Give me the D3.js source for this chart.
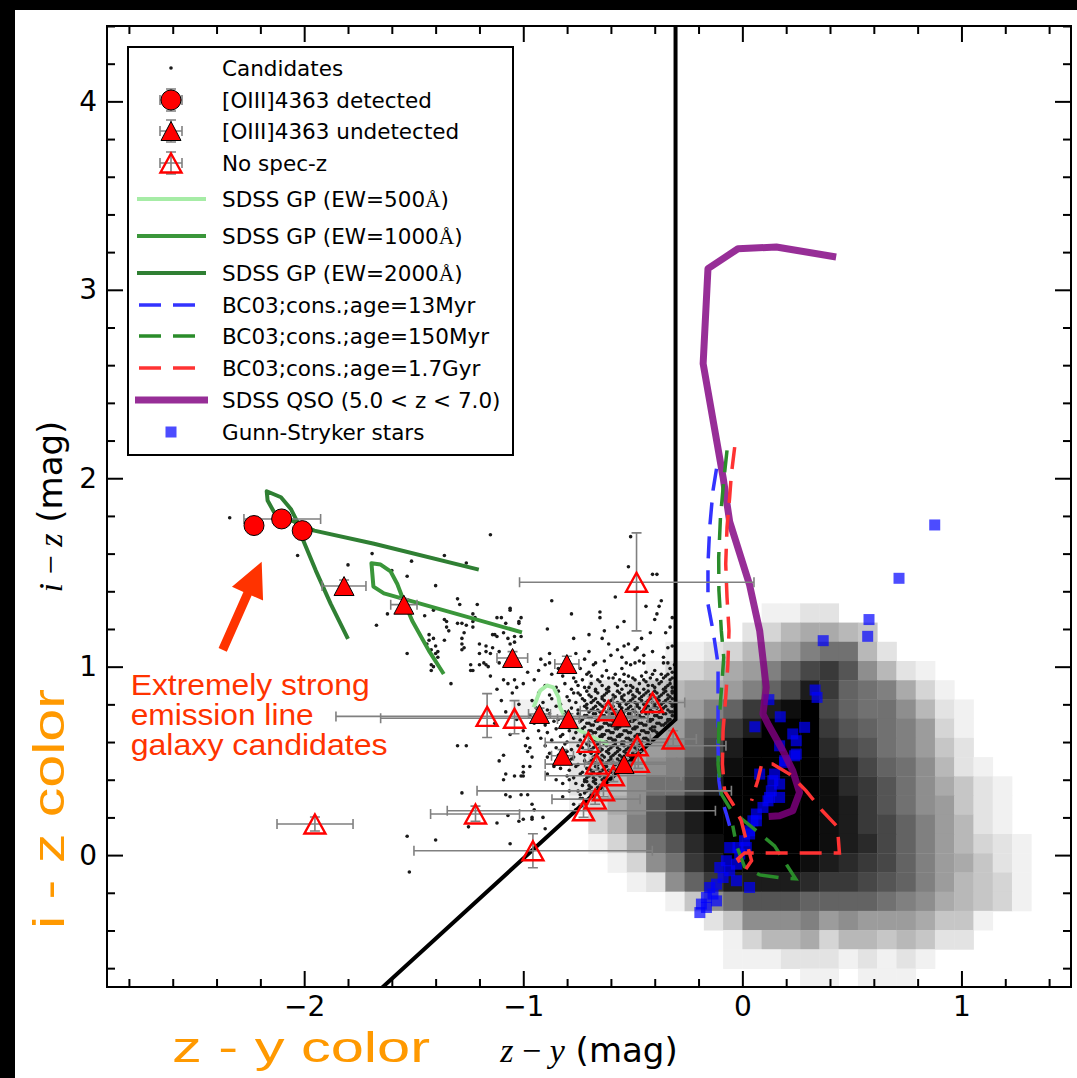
<!DOCTYPE html>
<html>
<head>
<meta charset="utf-8">
<script src="https://cdn.jsdelivr.net/npm/d3@7"></script>
<style>
body { margin: 0; background: #000; }
svg { display: block; }
</style>
</head>
<body>
<div id="chart"></div>
<script>
// ---- data ----
var xMajor = [-2, -1, 0, 1];
var yMajor = [0, 1, 2, 3, 4];

// 2D histogram of field sources, top row first, value 0..18 (radix-19 digits)
var binStartX = -13 * 0.0879, binDX = 0.0879, binDY = 0.102, binStartY = 0.01, topRow = 13;
var densityRows = [
  "0000000000000011220000000000",
  "0000000000000235665400000000",
  "00000000011235679AA520000000",
  "000000001334679BDEC852100000",
  "00000223456679BDGEBA96310000",
  "011112345679BEGHIDBAA8521000",
  "0000234567ACEGIIIECBA9731000",
  "0000234678ADGIIIIFDCA9742000",
  "0000245689CFHIIIIGFDBA852100",
  "00002458AADGIIIIIHFECA864210",
  "00001368CEGIIIIIIHGECA874210",
  "00000359CEGIIIIIIHGEDB975210",
  "00000136ACFHIIIIIHGFDB975321",
  "000000138AEGIIIIHGFEDB976421",
  "0000000128BEGGGGFEEDCB975431",
  "000000000148ACCCBBBBA9865431",
  "0000000000024888978777644100",
  "0000000000001355635545422000",
  "0000000000001112221212100000",
  "0000000000000000110111000000"
];

// candidate points "x,y"
var candidates = (
  "-2.34,1.79 -2.03,1.59 -1.80,1.54 -1.69,1.60 -1.60,1.51 -1.51,1.56 -1.53,1.48 -1.40,1.43 -1.36,1.59 -1.26,1.55 " +
  "-1.15,1.70 -1.30,1.36 -1.29,1.33 -1.21,1.33 -1.23,1.28 -1.22,1.26 -1.35,1.24 -1.35,1.21 -1.34,1.19 -1.62,1.28 " +
  "-1.67,1.22 -1.45,1.27 -1.43,1.17 -1.41,1.15 -1.36,1.14 -1.40,1.11 -1.39,1.08 -1.53,1.07 -1.41,1.00 -1.42,0.98 " +
  "-1.28,1.23 -1.26,1.22 -1.27,1.18 -1.28,1.15 -1.28,1.12 -1.27,1.10 -1.28,1.09 -1.24,1.01 -1.24,0.98 -1.20,1.12 " +
  "-1.17,1.11 -1.17,1.08 -1.18,1.02 -1.17,1.01 -1.15,1.07 -1.12,1.26 -1.10,1.26 -1.08,1.23 -1.06,1.30 -1.02,1.23 " +
  "-1.01,1.26 -1.13,1.17 -1.14,1.10 -1.11,1.08 -1.06,1.12 -1.04,1.16 -1.33,0.91 -1.11,1.02 -1.09,0.93 -1.07,0.91 " +
  "-1.04,0.93 -1.03,0.89 -1.00,0.91 -1.30,0.58 -1.26,0.58 -1.28,0.33 -1.11,0.50 -1.09,0.53 -1.08,0.43 -1.09,0.40 " +
  "-1.04,0.42 -1.00,0.42 -0.97,0.47 -0.99,0.58 -0.98,0.62 -1.01,0.32 -0.98,0.32 -1.53,0.10 -1.40,0.08 -1.52,-0.09 " +
  "-1.12,0.17 -1.07,0.21 -1.02,0.18 -1.00,0.19 -0.96,0.19 -0.91,0.20 -0.90,0.14 -1.06,0.06 -1.25,0.15 -0.51,1.69 " +
  "-0.41,1.49 -0.39,1.49 -0.87,1.35 -0.58,1.37 -0.37,1.35 -1.06,1.31 -0.78,1.28 -0.65,1.29 -0.65,1.26 -0.44,1.32 " +
  "-0.38,1.32 -0.39,1.28 -0.40,1.25 -0.32,1.26 -0.54,1.24 -0.89,1.20 -0.63,1.19 -0.42,1.18 -0.77,1.15 -1.02,1.24 " +
  "-1.14,1.17 -1.01,1.16 -0.61,1.12 -0.57,1.09 -0.54,1.11 -0.48,1.10 -0.32,1.11 -0.88,1.07 -0.92,1.04 -0.90,1.01 " +
  "-0.88,1.02 -0.68,1.01 -0.67,1.02 -0.63,1.03 -0.53,1.02 -0.51,1.01 -0.49,1.02 -0.47,1.03 -0.45,1.02 -0.36,1.02 " +
  "-0.34,1.02 -0.31,1.01 -0.52,1.12 -0.49,1.09 -0.52,1.53 -1.41,1.30 -1.36,1.25 -1.30,1.23 -1.23,1.24 -1.23,1.21 " +
  "-1.43,1.14 -1.44,1.12 -1.42,1.09 -1.40,1.07 -1.39,1.05 -1.42,1.01 -1.20,1.07 -1.20,1.01 -1.16,1.00 -1.12,1.16 " +
  "-1.09,1.18 -1.07,1.15 -1.04,1.13 -1.23,0.98 -0.89,0.52 -0.86,0.47 -0.89,0.43 -0.85,0.40 -0.82,0.38 -0.79,0.40 " +
  "-0.79,0.34 -0.82,0.31 -0.77,0.27 -0.74,0.30 -0.76,0.24 -1.08,0.32 -1.06,0.31 -0.97,0.57 -0.98,0.55 -0.96,0.52 " +
  "-1.00,0.47 -1.00,0.44 -1.01,0.42 -0.96,0.27 -0.95,0.24 -0.96,0.20 " +
  "-1.15,0.95 -1.12,0.88 -1.10,0.82 -1.08,0.76 -1.13,0.70 -1.05,0.86 -1.02,0.80 -1.03,0.72 -1.00,0.66 -1.06,0.64 " +
  "-0.98,0.97 -0.95,0.93 -0.93,0.98 -0.87,0.96 -0.84,0.99 -0.80,1.05 -0.76,1.07 -0.72,1.04 -0.70,1.08 -0.60,1.06 " +
  "-0.55,1.05 -0.45,1.06 -0.41,1.08 -0.36,1.05 -0.34,1.10 -0.64,1.15 -0.46,1.15 -0.35,1.18 -0.33,1.21 -0.57,1.21 -0.70,1.17 " +
  "-0.74,0.99 -0.70,0.97 -0.62,0.98 -0.58,0.96 -0.55,0.99 -0.44,0.97 -0.40,0.98 -0.37,0.96 -0.33,0.99 -0.32,0.97 " +
  "-0.82,0.95 -0.77,0.94 -0.73,0.93 -0.69,0.95 -0.66,0.93 -0.61,0.94 -0.56,0.93 -0.52,0.95 -0.49,0.93 -0.46,0.95 " +
  "-0.42,0.94 -0.39,0.93 -0.35,0.95 -0.33,0.93 -0.32,0.94 " +
  "-0.90,0.90 -0.85,0.89 -0.81,0.91 -0.78,0.88 -0.75,0.90 -0.72,0.89 -0.69,0.91 -0.67,0.88 -0.64,0.90 -0.61,0.89 " +
  "-0.58,0.91 -0.55,0.88 -0.53,0.90 -0.50,0.89 -0.47,0.91 -0.45,0.88 -0.43,0.90 -0.40,0.89 -0.38,0.91 -0.36,0.88 -0.34,0.90 -0.32,0.89 " +
  "-0.93,0.86 -0.88,0.85 -0.84,0.87 -0.80,0.84 -0.77,0.86 -0.74,0.85 -0.71,0.87 -0.69,0.84 -0.66,0.86 -0.63,0.85 " +
  "-0.61,0.87 -0.58,0.84 -0.56,0.86 -0.54,0.85 -0.51,0.87 -0.49,0.84 -0.47,0.86 -0.45,0.85 -0.43,0.87 -0.41,0.84 " +
  "-0.39,0.86 -0.37,0.85 -0.35,0.87 -0.33,0.84 -0.32,0.86 " +
  "-0.96,0.82 -0.91,0.81 -0.87,0.83 -0.83,0.80 -0.79,0.82 -0.76,0.81 -0.73,0.83 -0.71,0.80 -0.68,0.82 -0.66,0.81 " +
  "-0.64,0.83 -0.62,0.80 -0.60,0.82 -0.57,0.81 -0.55,0.83 -0.53,0.80 -0.51,0.82 -0.49,0.81 -0.47,0.83 -0.45,0.80 " +
  "-0.43,0.82 -0.41,0.81 -0.39,0.83 -0.37,0.80 -0.35,0.82 -0.33,0.81 -0.32,0.83 " +
  "-0.94,0.78 -0.89,0.77 -0.85,0.79 -0.81,0.76 -0.78,0.78 -0.75,0.77 -0.72,0.79 -0.70,0.76 -0.68,0.78 -0.66,0.77 " +
  "-0.64,0.79 -0.62,0.76 -0.60,0.78 -0.58,0.77 -0.56,0.79 -0.54,0.76 -0.52,0.78 -0.50,0.77 -0.48,0.79 -0.46,0.76 " +
  "-0.44,0.78 -0.42,0.77 -0.40,0.79 -0.38,0.76 -0.36,0.78 -0.34,0.77 -0.32,0.79 -0.32,0.76 " +
  "-0.97,0.74 -0.92,0.73 -0.88,0.75 -0.84,0.72 -0.81,0.74 -0.78,0.73 -0.75,0.75 -0.73,0.72 -0.71,0.74 -0.69,0.73 " +
  "-0.67,0.75 -0.65,0.72 -0.63,0.74 -0.61,0.73 -0.59,0.75 -0.57,0.72 -0.55,0.74 -0.53,0.73 -0.51,0.75 -0.49,0.72 " +
  "-0.47,0.74 -0.45,0.73 -0.43,0.75 -0.41,0.72 -0.39,0.74 -0.37,0.73 -0.35,0.75 -0.33,0.72 -0.32,0.74 " +
  "-0.95,0.70 -0.90,0.69 -0.86,0.71 -0.83,0.68 -0.80,0.70 -0.77,0.69 -0.74,0.71 -0.72,0.68 -0.70,0.70 -0.68,0.69 " +
  "-0.66,0.71 -0.64,0.68 -0.62,0.70 -0.60,0.69 -0.58,0.71 -0.56,0.68 -0.54,0.70 -0.52,0.69 -0.50,0.71 -0.48,0.68 " +
  "-0.46,0.70 -0.44,0.69 -0.42,0.71 -0.40,0.68 -0.38,0.70 -0.36,0.69 -0.34,0.71 " +
  "-0.93,0.66 -0.89,0.65 -0.85,0.67 -0.82,0.64 -0.79,0.66 -0.76,0.65 -0.73,0.67 -0.71,0.64 -0.69,0.66 -0.67,0.65 " +
  "-0.65,0.67 -0.63,0.64 -0.61,0.66 -0.59,0.65 -0.57,0.67 -0.55,0.64 -0.53,0.66 -0.51,0.65 -0.49,0.67 -0.47,0.64 " +
  "-0.45,0.66 -0.43,0.65 -0.41,0.66 -0.39,0.65 " +
  "-0.92,0.62 -0.87,0.61 -0.83,0.63 -0.80,0.60 -0.77,0.62 -0.74,0.61 -0.72,0.63 -0.70,0.60 -0.68,0.62 -0.66,0.61 " +
  "-0.64,0.63 -0.62,0.60 -0.60,0.62 -0.58,0.61 -0.56,0.63 -0.54,0.60 -0.52,0.62 -0.50,0.61 -0.48,0.63 -0.46,0.60 -0.44,0.62 -0.43,0.61 " +
  "-0.90,0.58 -0.85,0.57 -0.81,0.59 -0.78,0.56 -0.75,0.58 -0.73,0.57 -0.71,0.59 -0.69,0.56 -0.67,0.58 -0.65,0.57 " +
  "-0.63,0.59 -0.61,0.56 -0.59,0.58 -0.57,0.57 -0.55,0.59 -0.53,0.56 -0.51,0.58 -0.49,0.57 -0.47,0.58 " +
  "-0.88,0.54 -0.84,0.53 -0.80,0.55 -0.77,0.52 -0.74,0.54 -0.72,0.53 -0.70,0.55 -0.68,0.52 -0.66,0.54 -0.64,0.53 " +
  "-0.62,0.55 -0.60,0.52 -0.58,0.54 -0.56,0.53 -0.54,0.55 -0.52,0.53 -0.50,0.54 " +
  "-0.85,0.50 -0.81,0.49 -0.78,0.51 -0.75,0.48 -0.72,0.50 -0.70,0.49 -0.68,0.51 -0.66,0.48 -0.64,0.50 -0.62,0.49 " +
  "-0.60,0.51 -0.58,0.48 -0.56,0.50 -0.54,0.49 " +
  "-0.83,0.46 -0.79,0.45 -0.76,0.47 -0.73,0.44 -0.71,0.46 -0.69,0.45 -0.67,0.47 -0.65,0.44 -0.63,0.46 -0.61,0.45 -0.59,0.46 " +
  "-0.80,0.42 -0.77,0.41 -0.74,0.43 -0.72,0.40 -0.70,0.42 -0.68,0.41 -0.66,0.43 -0.64,0.40 -0.62,0.42 " +
  "-0.76,0.38 -0.73,0.37 -0.71,0.39 -0.69,0.36 -0.67,0.38 -0.65,0.37 " +
  "-0.75,0.34 -0.72,0.33 -0.70,0.35 -0.69,0.32 -0.73,0.30 -0.71,0.29 " +
  "-0.71,0.96 -0.64,0.95 -0.59,0.94 -0.54,0.96 -0.50,0.94 -0.45,0.93 -0.41,0.96 -0.36,0.94 -0.34,0.96 " +
  "-0.76,0.92 -0.70,0.89 -0.65,0.92 -0.62,0.88 -0.57,0.90 -0.54,0.92 -0.51,0.90 -0.48,0.88 -0.44,0.92 -0.41,0.90 -0.37,0.92 -0.35,0.89 -0.33,0.91 " +
  "-0.75,0.86 -0.70,0.85 -0.67,0.87 -0.64,0.84 -0.62,0.86 -0.59,0.85 -0.57,0.87 -0.55,0.84 -0.52,0.86 -0.50,0.85 " +
  "-0.48,0.87 -0.46,0.84 -0.44,0.86 -0.42,0.85 -0.40,0.87 -0.38,0.84 -0.36,0.86 -0.34,0.85 -0.32,0.87 " +
  "-0.72,0.82 -0.69,0.81 -0.67,0.83 -0.65,0.80 -0.63,0.82 -0.61,0.81 -0.59,0.83 -0.56,0.80 -0.54,0.82 -0.52,0.81 " +
  "-0.50,0.83 -0.48,0.80 -0.46,0.82 -0.44,0.81 -0.42,0.83 -0.40,0.80 -0.38,0.82 -0.36,0.81 -0.34,0.83 -0.32,0.80 " +
  "-0.71,0.78 -0.69,0.77 -0.67,0.79 -0.65,0.76 -0.63,0.78 -0.61,0.77 -0.59,0.79 -0.57,0.76 -0.55,0.78 -0.53,0.77 " +
  "-0.51,0.79 -0.49,0.76 -0.47,0.78 -0.45,0.77 -0.43,0.79 -0.41,0.76 -0.39,0.78 -0.37,0.77 -0.35,0.79 -0.33,0.76 " +
  "-0.72,0.74 -0.70,0.73 -0.68,0.75 -0.66,0.72 -0.64,0.74 -0.62,0.73 -0.60,0.75 -0.58,0.72 -0.56,0.74 -0.54,0.73 " +
  "-0.52,0.75 -0.50,0.72 -0.48,0.74 -0.46,0.73 -0.44,0.75 -0.42,0.72 -0.40,0.74 -0.38,0.73 -0.36,0.75 -0.34,0.72 " +
  "-0.71,0.70 -0.69,0.69 -0.67,0.71 -0.65,0.68 -0.63,0.70 -0.61,0.69 -0.59,0.71 -0.57,0.68 -0.55,0.70 -0.53,0.69 " +
  "-0.51,0.71 -0.49,0.68 -0.47,0.70 -0.45,0.69 -0.43,0.71 -0.41,0.68 -0.39,0.70 -0.37,0.69 -0.35,0.70 " +
  "-0.70,0.66 -0.68,0.65 -0.66,0.67 -0.64,0.64 -0.62,0.66 -0.60,0.65 -0.58,0.67 -0.56,0.64 -0.54,0.66 -0.52,0.65 " +
  "-0.50,0.67 -0.48,0.64 -0.46,0.66 -0.44,0.65 -0.42,0.67 -0.40,0.66 " +
  "-0.69,0.62 -0.67,0.61 -0.65,0.63 -0.63,0.60 -0.61,0.62 -0.59,0.61 -0.57,0.63 -0.55,0.60 -0.53,0.62 -0.51,0.61 -0.49,0.63 -0.47,0.60 -0.45,0.62 " +
  "-0.70,0.58 -0.68,0.57 -0.66,0.59 -0.64,0.56 -0.62,0.58 -0.60,0.57 -0.58,0.59 -0.56,0.56 -0.54,0.58 -0.52,0.57 -0.50,0.59 -0.48,0.56 " +
  "-0.69,0.54 -0.67,0.53 -0.65,0.55 -0.63,0.52 -0.61,0.54 -0.59,0.53 -0.57,0.55 -0.55,0.52 -0.53,0.54 -0.51,0.52 " +
  "-0.69,0.50 -0.67,0.49 -0.65,0.51 -0.63,0.48 -0.61,0.50 -0.59,0.49 -0.57,0.51 -0.55,0.48 " +
  "-0.70,0.46 -0.68,0.44 -0.66,0.46 -0.64,0.45 -0.62,0.47 -0.60,0.44 " +
  "-0.71,0.41 -0.69,0.43 -0.67,0.40 -0.65,0.42 -0.63,0.41 -0.72,0.39 -0.70,0.37 -0.68,0.39 -0.66,0.36 -0.71,0.34 -0.74,0.32"
).split(" ").map(function(s) { var p = s.split(","); return [+p[0], +p[1]]; });

// [x, y, xlow, xhigh, ylow, yhigh]
var detected = [
  [-2.229, 1.749, -2.26, -2.20, 1.72, 1.78],
  [-2.103, 1.784, -2.275, -1.925, 1.75, 1.82],
  [-2.009, 1.722, -2.04, -1.98, 1.69, 1.75]
];
var undetected = [
  [-1.818, 1.428, -1.918, -1.718, 1.40, 1.46],
  [-1.545, 1.329, -1.605, -1.485, 1.30, 1.36],
  [-1.049, 1.046, -1.12, -0.98, 1.02, 1.08],
  [-0.801, 1.014, -0.856, -0.746, 0.975, 1.055],
  [-0.926, 0.749, -0.976, -0.876, 0.72, 0.78],
  [-0.794, 0.722, -0.844, -0.744, 0.69, 0.75],
  [-0.554, 0.731, -0.604, -0.504, 0.70, 0.76],
  [-0.821, 0.527, -0.871, -0.771, 0.50, 0.56],
  [-0.540, 0.483, -0.59, -0.49, 0.45, 0.51]
];
var noSpecZ = [
  [-0.483, 1.448, -1.017, 0.053, 1.19, 1.71],
  [-1.165, 0.736, -1.855, -0.477, 0.624, 0.857],
  [-1.040, 0.726, -1.651, -0.431, 0.644, 0.82],
  [-0.612, 0.766, -0.74, -0.49, 0.73, 0.80],
  [-0.410, 0.810, -0.59, -0.263, 0.78, 0.84],
  [-0.703, 0.598, -0.90, -0.34, 0.56, 0.64],
  [-0.480, 0.580, -0.65, -0.075, 0.55, 0.61],
  [-0.316, 0.616, -0.42, -0.21, 0.58, 0.66],
  [-0.665, 0.483, -0.90, -0.285, 0.45, 0.52],
  [-0.475, 0.492, -0.72, -0.30, 0.46, 0.53],
  [-0.589, 0.421, -0.90, -0.28, 0.39, 0.45],
  [-0.634, 0.341, -1.211, -0.05, 0.31, 0.37],
  [-0.672, 0.297, -0.869, -0.467, 0.27, 0.33],
  [-0.725, 0.235, -1.347, -0.123, 0.20, 0.27],
  [-1.218, 0.218, -1.423, -1.017, 0.18, 0.26],
  [-0.956, 0.023, -1.499, -0.411, -0.067, 0.113],
  [-1.951, 0.165, -2.124, -1.777, 0.128, 0.202]
];

var gp500 = [[-0.953,0.784],[-0.923,0.873],[-0.892,0.9],[-0.862,0.89],[-0.839,0.837],[-0.832,0.784],[-0.801,0.713],[-0.741,0.66],[-0.665,0.616],[-0.612,0.589]];
var gp1000 = [[-1.006,1.182],[-1.636,1.389],[-1.684,1.425],[-1.693,1.549],[-1.651,1.542],[-1.606,1.506],[-1.575,1.439],[-1.552,1.368],[-1.507,1.244],[-1.431,1.085],[-1.363,0.961]];
var gp2000 = [[-1.203,1.515],[-1.681,1.652],[-1.954,1.722],[-2.038,1.766],[-2.137,1.819],[-2.167,1.882],[-2.171,1.931],[-2.106,1.899],[-2.061,1.837],[-2.03,1.766],[-2.007,1.678],[-1.947,1.51],[-1.879,1.333],[-1.8,1.147]];

var bc13 = [[-0.118,2.05],[-0.134,1.935],[-0.149,1.74],[-0.157,1.545],[-0.157,1.333],[-0.134,1.191],[-0.111,1.014],[-0.111,0.749],[-0.111,0.571],[-0.107,0.395],[-0.096,0.306],[-0.073,0.218],[-0.058,0.156]];
var bc150 = [[-0.07,2.148],[-0.085,1.988],[-0.1,1.793],[-0.108,1.58],[-0.107,1.404],[-0.096,1.191],[-0.085,1.049],[-0.096,0.873],[-0.107,0.696],[-0.111,0.483],[-0.096,0.324],[-0.05,0.235],[0.042,0.15],[0.147,0.049],[0.243,-0.126],[0.17,-0.12],[0.079,-0.105],[0.01,-0.062],[-0.026,0.049],[-0.044,0.156]];
var bc17 = [[-0.035,2.165],[-0.05,2.023],[-0.058,1.899],[-0.07,1.74],[-0.076,1.545],[-0.07,1.368],[-0.061,1.191],[-0.066,1.014],[-0.076,0.837],[-0.088,0.66],[-0.091,0.483],[-0.081,0.341],[-0.043,0.271],[-0.005,0.182],[0.024,0.049],[0.042,-0.03],[0.01,-0.083],[-0.021,-0.02],[0.01,0.011],[0.111,0.011],[0.261,0.011],[0.443,0.011],[0.434,0.15],[0.365,0.235],[0.291,0.341],[0.215,0.43],[0.138,0.483],[0.088,0.483],[0.07,0.395],[0.042,0.288]];

var qso = [[0.428,3.174],[0.155,3.227],[-0.02,3.218],[-0.157,3.112],[-0.179,2.608],[-0.088,2.005],[-0.058,1.77],[0.033,1.434],[0.079,1.191],[0.109,0.89],[0.094,0.749],[0.117,0.696],[0.185,0.554],[0.23,0.448],[0.261,0.332],[0.23,0.235],[0.17,0.209],[0.12,0.205]];

var gunnStryker = [[0.878,1.752],[0.715,1.469],[0.578,1.25],[0.572,1.161],[0.369,1.138],[0.332,0.876],[0.341,0.837],[0.121,0.825],[0.173,0.734],[0.057,0.681],[0.284,0.678],[0.23,0.643],[0.246,0.607],[0.17,0.58],[0.238,0.527],[0.193,0.501],[0.079,0.43],[0.147,0.43],[0.17,0.377],[0.132,0.341],[0.17,0.306],[0.117,0.288],[0.094,0.253],[0.064,0.218],[0.048,0.182],[0.033,0.129],[0.01,0.076],[-0.02,0.04],[-0.058,0.04],[0.064,0.182],[0.033,0.112],[0.018,0.04],[-0.012,0.005],[-0.027,-0.048],[-0.058,-0.083],[-0.088,-0.119],[-0.118,-0.154],[-0.149,-0.172],[-0.164,-0.225],[-0.187,-0.26],[-0.194,-0.305],[-0.103,-0.066],[-0.073,-0.03],[0.033,-0.172],[-0.027,-0.136],[-0.134,-0.207],[-0.164,-0.278],[-0.118,-0.243],[0.246,0.536],[0.193,0.492],[0.139,0.395],[0.124,0.306]];

var selectionCut = [[-0.305, 4.5], [-0.305, 0.72], [-1.66, -0.72]];
var arrowTail = [-2.372, 1.089], arrowTip = [-2.194, 1.557];

var legendLabels = ["Candidates", "[OIII]4363 detected", "[OIII]4363 undetected", "No spec-z",
  "SDSS GP (EW=500|Å|)", "SDSS GP (EW=1000|Å|)", "SDSS GP (EW=2000|Å|)",
  "BC03;cons.;age=13Myr", "BC03;cons.;age=150Myr", "BC03;cons.;age=1.7Gyr",
  "SDSS QSO (5.0 < z < 7.0)", "Gunn-Stryker stars"];
var noteLines = ["Extremely strong", "emission line", "galaxy candidates"];

// ---- drawing ----
var W = 1077, H = 1078;
var plotL = 107, plotR = 1071, plotT = 26, plotB = 987;

var svg = d3.select("#chart").append("svg").attr("width", W).attr("height", H);
svg.append("rect").attr("width", W).attr("height", H).attr("fill", "#000");
svg.append("rect").attr("x", 15).attr("y", 10).attr("width", W - 15).attr("height", H - 10).attr("fill", "#fff");

var x = d3.scaleLinear().domain([-2.9, 1.5]).range([plotL, plotR]);
var y = d3.scaleLinear().domain([-0.7, 4.4]).range([plotB, plotT]);

svg.append("clipPath").attr("id", "clip").append("rect")
  .attr("x", plotL).attr("y", plotT).attr("width", plotR - plotL).attr("height", plotB - plotT);
var plot = svg.append("g").attr("clip-path", "url(#clip)");

// density
var cells = [];
densityRows.forEach(function(row, i) {
  var r = topRow - i;
  row.split("").forEach(function(ch, j) {
    var v = parseInt(ch, 19);
    if (!v) return;
    var x0 = binStartX + j * binDX, y0 = binStartY + (r - 1) * binDY;
    cells.push({x0: x0, x1: x0 + binDX, y0: y0, y1: y0 + binDY, v: v});
  });
});
plot.append("g").selectAll("rect").data(cells).enter().append("rect")
  .attr("x", function(d) { return x(d.x0); })
  .attr("y", function(d) { return y(d.y1); })
  .attr("width", function(d) { return x(d.x1) - x(d.x0) + 0.4; })
  .attr("height", function(d) { return y(d.y0) - y(d.y1) + 0.4; })
  .attr("fill", function(d) { var g = Math.round(255 * (1 - d.v / 18)); return "rgb(" + g + "," + g + "," + g + ")"; });

// candidates
plot.append("g").selectAll("circle").data(candidates).enter().append("circle")
  .attr("cx", function(d) { return x(d[0]); })
  .attr("cy", function(d) { return y(d[1]); })
  .attr("r", 1.8)
  .attr("fill", "#1a1a1a");

var line = d3.line().x(function(d) { return x(d[0]); }).y(function(d) { return y(d[1]); });

// selection cut
plot.append("path").attr("d", line(selectionCut)).attr("fill", "none")
  .attr("stroke", "#000").attr("stroke-width", 4);

// green pea tracks
plot.append("path").attr("d", line(gp500)).attr("fill", "none").attr("stroke", "#a6eca6").attr("stroke-width", 4).attr("stroke-linejoin", "round");
plot.append("path").attr("d", line(gp1000)).attr("fill", "none").attr("stroke", "#3a963a").attr("stroke-width", 4).attr("stroke-linejoin", "round");
plot.append("path").attr("d", line(gp2000)).attr("fill", "none").attr("stroke", "#2f7f33").attr("stroke-width", 4).attr("stroke-linejoin", "round");

// stars
plot.append("g").selectAll("rect").data(gunnStryker).enter().append("rect")
  .attr("x", function(d) { return x(d[0]) - 5.5; })
  .attr("y", function(d) { return y(d[1]) - 5.5; })
  .attr("width", 11).attr("height", 11)
  .attr("fill", "#0000ff").attr("fill-opacity", 0.7);

// QSO track
plot.append("path").attr("d", line(qso)).attr("fill", "none").attr("stroke", "#800080")
  .attr("stroke-opacity", 0.82).attr("stroke-width", 7).attr("stroke-linejoin", "round");

// BC03 tracks
[[bc13, "#3333ff"], [bc150, "#2a8c2a"], [bc17, "#ff3333"]].forEach(function(t) {
  plot.append("path").attr("d", line(t[0])).attr("fill", "none").attr("stroke", t[1])
    .attr("stroke-width", 3.5).attr("stroke-dasharray", "22,12");
});

// error bars
function errorBars(g, d) {
  var cx = x(d[0]), cy = y(d[1]);
  var xl = x(d[2]), xh = x(d[3]), yl = y(d[4]), yh = y(d[5]);
  var p = "M" + xl + "," + cy + "H" + xh + "M" + xl + "," + (cy - 5) + "V" + (cy + 5) + "M" + xh + "," + (cy - 5) + "V" + (cy + 5) +
          "M" + cx + "," + yl + "V" + yh + "M" + (cx - 5) + "," + yl + "H" + (cx + 5) + "M" + (cx - 5) + "," + yh + "H" + (cx + 5);
  g.append("path").attr("d", p).attr("fill", "none").attr("stroke", "#808080").attr("stroke-width", 1.6);
}
function tri(cx, cy, w, h) {
  return "M" + cx + "," + (cy - h / 2) + "L" + (cx + w / 2) + "," + (cy + h / 2) + "L" + (cx - w / 2) + "," + (cy + h / 2) + "Z";
}
var eb = plot.append("g");
noSpecZ.concat(undetected, detected).forEach(function(d) { errorBars(eb, d); });

var mk = plot.append("g");
noSpecZ.forEach(function(d) {
  mk.append("path").attr("d", tri(x(d[0]), y(d[1]), 21, 19)).attr("fill", "none").attr("stroke", "#ff0000").attr("stroke-width", 2.4);
});
undetected.forEach(function(d) {
  mk.append("path").attr("d", tri(x(d[0]), y(d[1]), 20, 19)).attr("fill", "#ff0000").attr("stroke", "#000").attr("stroke-width", 1);
});
detected.forEach(function(d) {
  mk.append("circle").attr("cx", x(d[0])).attr("cy", y(d[1])).attr("r", 10).attr("fill", "#ff0000").attr("stroke", "#000").attr("stroke-width", 1);
});

// arrow annotation
(function() {
  var tx = x(arrowTail[0]), ty = y(arrowTail[1]), hx = x(arrowTip[0]), hy = y(arrowTip[1]);
  var dx = hx - tx, dy = hy - ty, len = Math.sqrt(dx * dx + dy * dy);
  var ux = dx / len, uy = dy / len, nx = -uy, ny = ux;
  var hl = 35, hw = 17, sw = 4.5;
  var bx = hx - ux * hl, by = hy - uy * hl;
  var pts = [[tx + nx * sw, ty + ny * sw], [bx + nx * sw, by + ny * sw], [bx + nx * hw, by + ny * hw], [hx, hy],
             [bx - nx * hw, by - ny * hw], [bx - nx * sw, by - ny * sw], [tx - nx * sw, ty - ny * sw]];
  svg.append("path").attr("d", "M" + pts.map(function(p) { return p.join(","); }).join("L") + "Z").attr("fill", "#ff3300");
})();

var note = svg.append("text").attr("font-family", "Liberation Sans, Arial, sans-serif").attr("font-size", 30).attr("fill", "#ff3300");
var noteLen = [239, 183, 257];
noteLines.forEach(function(t, i) {
  note.append("tspan").attr("x", x(-2.792)).attr("y", y(0.85) + i * 30).attr("textLength", noteLen[i]).attr("lengthAdjust", "spacingAndGlyphs").text(t);
});

// axes
function styleAxis(g) {
  g.select(".domain").remove();
  g.selectAll(".tick line").attr("stroke", "#000").attr("stroke-width", 2);
  g.selectAll(".tick text").attr("font-family", "DejaVu Sans, sans-serif").attr("font-size", 28).attr("fill", "#000");
}
function isMinor(v) { return Math.abs(v - Math.round(v)) > 1e-6; }
var xMinor = x.ticks(22).filter(isMinor);
var yMinor = y.ticks(25).filter(isMinor);
var fmt = d3.format("d");

svg.append("g").attr("transform", "translate(0," + plotB + ")").call(d3.axisBottom(x).tickValues(xMajor).tickSize(-16).tickPadding(9).tickFormat(fmt)).call(styleAxis);
svg.append("g").attr("transform", "translate(0," + plotB + ")").call(d3.axisBottom(x).tickValues(xMinor).tickSize(-8).tickFormat("")).call(styleAxis);
svg.append("g").attr("transform", "translate(0," + plotT + ")").call(d3.axisTop(x).tickValues(xMajor).tickSize(-16).tickFormat("")).call(styleAxis);
svg.append("g").attr("transform", "translate(0," + plotT + ")").call(d3.axisTop(x).tickValues(xMinor).tickSize(-8).tickFormat("")).call(styleAxis);
svg.append("g").attr("transform", "translate(" + plotL + ",0)").call(d3.axisLeft(y).tickValues(yMajor).tickSize(-16).tickPadding(10).tickFormat(fmt)).call(styleAxis);
svg.append("g").attr("transform", "translate(" + plotL + ",0)").call(d3.axisLeft(y).tickValues(yMinor).tickSize(-8).tickFormat("")).call(styleAxis);
svg.append("g").attr("transform", "translate(" + plotR + ",0)").call(d3.axisRight(y).tickValues(yMajor).tickSize(-16).tickFormat("")).call(styleAxis);
svg.append("g").attr("transform", "translate(" + plotR + ",0)").call(d3.axisRight(y).tickValues(yMinor).tickSize(-8).tickFormat("")).call(styleAxis);

svg.append("rect").attr("x", plotL).attr("y", plotT).attr("width", plotR - plotL).attr("height", plotB - plotT)
  .attr("fill", "none").attr("stroke", "#000").attr("stroke-width", 2);

// axis labels
var xl = svg.append("text").attr("x", (plotL + plotR) / 2).attr("y", 1062).attr("text-anchor", "middle")
  .attr("font-family", "DejaVu Sans, sans-serif").attr("font-size", 34).attr("fill", "#000");
xl.append("tspan").attr("font-family", "Liberation Serif, serif").attr("font-style", "italic").text("z");
xl.append("tspan").attr("font-family", "Liberation Serif, serif").text(" \u2212 ");
xl.append("tspan").attr("font-family", "Liberation Serif, serif").attr("font-style", "italic").text("y");
xl.append("tspan").text(" (mag)");

var yl = svg.append("text").attr("transform", "translate(62," + (plotT + plotB) / 2 + ") rotate(-90)").attr("text-anchor", "middle")
  .attr("font-family", "DejaVu Sans, sans-serif").attr("font-size", 34).attr("fill", "#000");
yl.append("tspan").attr("font-family", "Liberation Serif, serif").attr("font-style", "italic").text("i");
yl.append("tspan").attr("font-family", "Liberation Serif, serif").text(" \u2212 ");
yl.append("tspan").attr("font-family", "Liberation Serif, serif").attr("font-style", "italic").text("z");
yl.append("tspan").text(" (mag)");

// orange overlay labels
svg.append("text").attr("x", 172).attr("y", 1062).attr("font-family", "Liberation Sans, Arial, sans-serif")
  .attr("font-size", 43).attr("fill", "#ff9900").attr("textLength", 258).attr("lengthAdjust", "spacingAndGlyphs").text("z - y color");
svg.append("text").attr("transform", "translate(64,929) rotate(-90)").attr("font-family", "Liberation Sans, Arial, sans-serif")
  .attr("font-size", 44).attr("fill", "#ff9900").attr("textLength", 240).attr("lengthAdjust", "spacingAndGlyphs").text("i - z color");

// legend
var lg = svg.append("g");
lg.append("rect").attr("x", 128).attr("y", 47).attr("width", 385).attr("height", 408)
  .attr("fill", "#fff").attr("stroke", "#000").attr("stroke-width", 2);
var rowY = [68, 100, 131, 163, 199, 236, 273, 305, 336, 368, 400, 432];
var mx = 171, l0 = 137, l1 = 206;
lg.append("circle").attr("cx", mx).attr("cy", rowY[0]).attr("r", 1.8).attr("fill", "#1a1a1a");
function legendBars(cy) {
  lg.append("path").attr("d", "M" + (mx - 11) + "," + cy + "H" + (mx + 11) + "M" + (mx - 11) + "," + (cy - 5) + "V" + (cy + 5) +
    "M" + (mx + 11) + "," + (cy - 5) + "V" + (cy + 5) + "M" + mx + "," + (cy - 11) + "V" + (cy + 11) +
    "M" + (mx - 5) + "," + (cy - 11) + "H" + (mx + 5) + "M" + (mx - 5) + "," + (cy + 11) + "H" + (mx + 5))
    .attr("fill", "none").attr("stroke", "#808080").attr("stroke-width", 1.6);
}
legendBars(rowY[1]); legendBars(rowY[2]); legendBars(rowY[3]);
lg.append("circle").attr("cx", mx).attr("cy", rowY[1]).attr("r", 10).attr("fill", "#ff0000").attr("stroke", "#000");
lg.append("path").attr("d", tri(mx, rowY[2], 20, 19)).attr("fill", "#ff0000").attr("stroke", "#000");
lg.append("path").attr("d", tri(mx, rowY[3], 21, 19)).attr("fill", "none").attr("stroke", "#ff0000").attr("stroke-width", 2.4);
[["#a6eca6", 4, null], ["#3a963a", 4, null], ["#2f7f33", 4, null], ["#3333ff", 3.5, "22,12"], ["#2a8c2a", 3.5, "22,12"], ["#ff3333", 3.5, "22,12"]]
  .forEach(function(s, i) {
    var cy = rowY[4 + i];
    lg.append("path").attr("d", "M" + (s[2] ? 139 : l0) + "," + cy + "H" + (s[2] ? 205 : l1)).attr("stroke", s[0])
      .attr("stroke-width", s[1]).attr("stroke-dasharray", s[2]);
  });
lg.append("path").attr("d", "M" + (l0 - 2) + "," + rowY[10] + "H" + (l1 + 2)).attr("stroke", "#800080").attr("stroke-opacity", 0.82).attr("stroke-width", 7);
lg.append("rect").attr("x", mx - 5.5).attr("y", rowY[11] - 5.5).attr("width", 11).attr("height", 11).attr("fill", "#0000ff").attr("fill-opacity", 0.7);

legendLabels.forEach(function(t, i) {
  var tx = lg.append("text").attr("x", 222).attr("y", rowY[i] + 8)
    .attr("font-family", "DejaVu Sans, sans-serif").attr("font-size", 21.5).attr("fill", "#000");
  t.split("|").forEach(function(part, k) {
    var ts = tx.append("tspan").text(part);
    if (k === 1) ts.attr("font-family", "Liberation Serif, serif");
  });
});
</script>
</body>
</html>
